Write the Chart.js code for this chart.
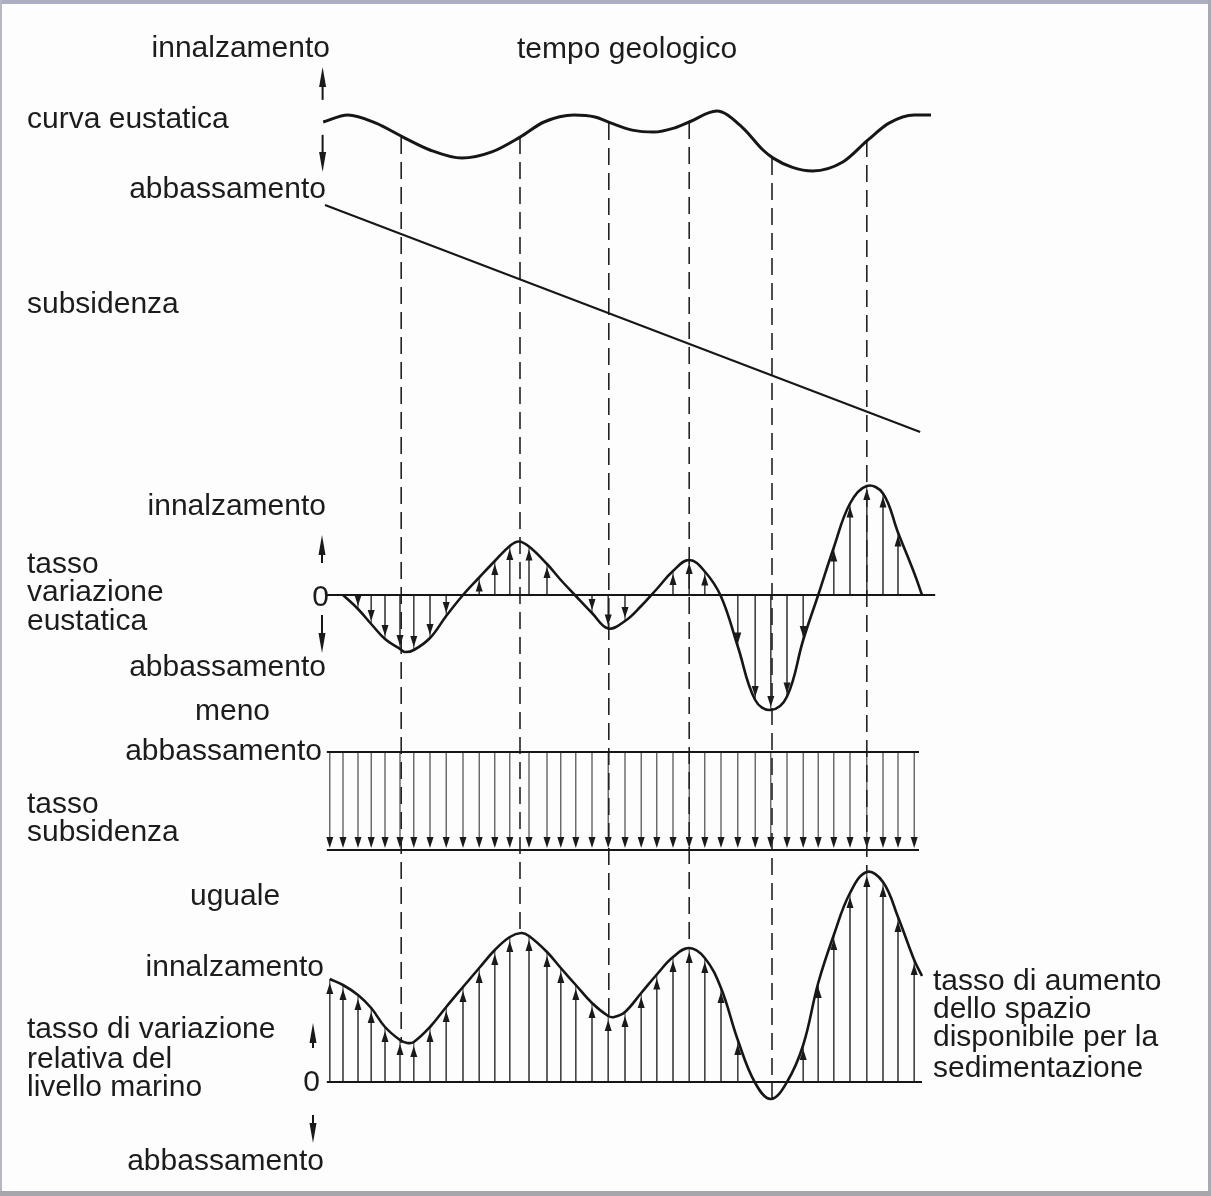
<!DOCTYPE html>
<html lang="it">
<head>
<meta charset="utf-8">
<title>Curva eustatica, subsidenza e variazione relativa del livello marino</title>
<script src="https://cdn.jsdelivr.net/npm/chart.js@4.4.1/dist/chart.umd.min.js"></script>
<style>
  html, body { margin: 0; padding: 0; background: #fdfdfd; overflow: hidden; }
  #wrap { position: relative; width: 1211px; height: 1196px; }
  #chart { position: absolute; left: 0; top: 0; }
  .lbl { position: absolute; font: 30px "Liberation Sans", Arial, sans-serif; line-height: 30px;
         color: #1c1c1c; white-space: nowrap; }
  .band { position: absolute; background: #adaec4; }
</style>
</head>
<body>
<div id="wrap">
  <canvas id="chart" width="1211" height="1196"></canvas>

  <div class="lbl" style="right:881px; top:32px">innalzamento</div>
  <div class="lbl" style="left:517px; top:33px">tempo geologico</div>
  <div class="lbl" style="left:27px; top:103px">curva eustatica</div>
  <div class="lbl" style="right:885px; top:173px">abbassamento</div>
  <div class="lbl" style="left:27px; top:288px">subsidenza</div>

  <div class="lbl" style="right:885px; top:490px">innalzamento</div>
  <div class="lbl" style="left:27px; top:548px">tasso</div>
  <div class="lbl" style="left:27px; top:576px">variazione</div>
  <div class="lbl" style="left:27px; top:605px">eustatica</div>
  <div class="lbl" style="right:882px; top:581px">0</div>
  <div class="lbl" style="right:885px; top:651px">abbassamento</div>
  <div class="lbl" style="left:195px; top:695px">meno</div>
  <div class="lbl" style="right:889px; top:735px">abbassamento</div>
  <div class="lbl" style="left:27px; top:788px">tasso</div>
  <div class="lbl" style="left:27px; top:816px">subsidenza</div>
  <div class="lbl" style="left:190px; top:880px">uguale</div>

  <div class="lbl" style="right:887px; top:951px">innalzamento</div>
  <div class="lbl" style="left:27px; top:1013px">tasso di variazione</div>
  <div class="lbl" style="left:27px; top:1043px">relativa del</div>
  <div class="lbl" style="left:27px; top:1071px">livello marino</div>
  <div class="lbl" style="right:891px; top:1066px">0</div>
  <div class="lbl" style="right:887px; top:1145px">abbassamento</div>

  <div class="lbl" style="left:933px; top:965px">tasso di aumento</div>
  <div class="lbl" style="left:933px; top:993px">dello spazio</div>
  <div class="lbl" style="left:933px; top:1021px">disponibile per la</div>
  <div class="lbl" style="left:933px; top:1052px">sedimentazione</div>

  <div class="band" style="left:0; top:0; width:1211px; height:4px"></div>
  <div class="band" style="left:0; top:0; width:2px; height:1196px; background:#b7b7c0"></div>
  <div class="band" style="left:1208px; top:0; width:3px; height:1196px; background:#a9a9b2"></div>
  <div class="band" style="left:0; top:1191px; width:1211px; height:5px; background:#a6a6ac"></div>
</div>

<script>
// tempo geologico (unità arbitrarie) delle linee verticali con freccia
const tGrid = [0.8, 3.0, 5.5, 7.7, 10.0, 12.5, 14.8, 17.5, 20.2, 23.0, 25.7, 28.3, 30.8, 34.0, 37.0,
  39.3, 41.8, 44.5, 47.2, 50.0, 52.7, 55.3, 58.0, 60.7, 63.3, 66.0, 68.8, 71.7, 74.3, 77.0,
  79.7, 82.2, 84.8, 87.5, 90.3, 93.0, 95.5, 98.2];

// curva eustatica (livello del mare)
const eusLevelT = [-0.3, 3.8, 8.5, 13.0, 17.5, 22.8, 27.8, 32.5, 36.5, 41.5, 45.0, 47.7, 51.2, 54.8,
  58.3, 60.7, 65.3, 69.5, 73.0, 74.7, 77.8, 81.3, 86.3, 90.5, 94.0, 98.2, 101.0];
const eusLevelV = [0.75, 1.0, 0.71, 0.21, -0.25, -0.54, -0.32, 0.21, 0.75, 1.0, 0.93, 0.71, 0.46, 0.39,
  0.54, 0.75, 1.14, 0.57, -0.25, -0.54, -0.86, -1.0, -0.68, 0.11, 0.71, 1.0, 1.0];

// subsidenza (linea retta)
const subsT = [0, 99.2];
const subsV = [0, -100];

// tasso di variazione eustatica sulle linee della griglia
const eusRate = [null, 0, -0.28, -0.58, -0.88, -1.08, -1.10, -0.86, -0.42, 0, 0.35, 0.68, 0.98, 0.97,
  0.62, 0.30, -0.02, -0.36, -0.67, -0.52, -0.22, 0.12, 0.48, 0.70, 0.47, -0.03, -1.03, -2.1, -2.3, -2.03,
  -0.9, 0, 0.95, 1.83, 2.18, 2.03, 1.25, 0.44];
// massimi e fine della curva tra due linee
const eusRateKeys = [[13.3, -1.14], [32.3, 1.07], [99.5, 0]];
// linee che hanno la freccia
const eusArrowIdx = [2, 3, 4, 5, 6, 7, 8, 10, 11, 12, 13, 14, 17, 18, 19, 22, 23, 24,
  26, 27, 28, 29, 30, 32, 33, 34, 35, 36];

// tasso di subsidenza (costante)
const subsRate = -1.96;

// tasso di variazione relativa del livello marino
const relRate = [2.06, 1.94, 1.74, 1.48, 1.10, 0.84, 0.80, 1.10, 1.50, 1.90, 2.28, 2.64, 2.90, 2.92,
  2.60, 2.28, 1.94, 1.58, 1.32, 1.40, 1.78, 2.15, 2.50, 2.68, 2.48, 1.88, 0.84, -0.02, -0.34, 0,
  0.74, 1.98, 2.94, 3.78, 4.2, 4.0, 3.3, 2.44];
const relKeys = [[13.7, 0.78], [32.7, 2.98], [48.2, 1.30], [99.5, 2.12]];

// linee tratteggiate: tempo, valore sulla curva eustatica, valore sulla curva relativa
const dashT = [12.7, 32.5, 47.3, 60.7, 74.5, 90.3];
const dashTop = [0.21, 0.21, 0.71, 0.75, -0.54, 0.11];
const dashBottom = [0.78, 2.98, 1.30, 2.68, -0.34, 4.2];

// frecce innalzamento / abbassamento accanto alle etichette
const sideArrows = [
  { axis: "yLevel", t: -0.4, from: 1.54, to: 2.71 },
  { axis: "yLevel", t: -0.4, from: 0.29, to: -1.04 },
  { axis: "yRate", t: -0.5, from: 0.64, to: 1.2 },
  { axis: "yRate", t: -0.5, from: -0.4, to: -1.16 },
  { axis: "yRel", t: -2, from: 0.68, to: 1.18 },
  { axis: "yRel", t: -2, from: -0.66, to: -1.22 }
];

const W = 1211, H = 1196;
const INK = "#161616";

// asse verticale nascosto: pixel dello zero e pixel per unità
function vAxis(zeroPx, unitPx) {
  return { type: "linear", display: false, min: (zeroPx - H) / unitPx, max: zeroPx / unitPx };
}

function pts(ts, vs) {
  return ts.map((t, i) => ({ x: t, y: vs[i] })).filter(p => p.y !== null);
}

function withKeys(vals, keys) {
  const p = pts(tGrid, vals).concat(keys.map(k => ({ x: k[0], y: k[1] })));
  return p.sort((a, b) => a.x - b.x);
}

function lineSet(data, axis, width, tension) {
  return {
    data: data, yAxisID: axis, borderColor: INK, borderWidth: width,
    pointRadius: 0, fill: false, tension: tension || 0
  };
}

function arrow(ctx, x, y0, y1, head, half) {
  const dir = Math.sign(y1 - y0) || 1;
  ctx.beginPath();
  ctx.moveTo(x, y0);
  ctx.lineTo(x, y1 - dir * head * 0.5);
  ctx.stroke();
  ctx.beginPath();
  ctx.moveTo(x, y1);
  ctx.lineTo(x - half, y1 - dir * head);
  ctx.lineTo(x + half, y1 - dir * head);
  ctx.closePath();
  ctx.fill();
}

const diagram = {
  id: "diagram",
  beforeDatasetsDraw(chart) {
    const ctx = chart.ctx;
    const sx = chart.scales.x, sRate = chart.scales.yRate, sBox = chart.scales.yBox;
    const sRel = chart.scales.yRel, sLev = chart.scales.yLevel;
    ctx.save();
    ctx.strokeStyle = "#3a3a3a";
    ctx.fillStyle = "#1a1a1a";
    ctx.lineWidth = 1.1;

    // frecce del tasso eustatico
    eusArrowIdx.forEach(i => {
      const x = sx.getPixelForValue(tGrid[i]);
      const y0 = sRate.getPixelForValue(0);
      const y1 = sRate.getPixelForValue(eusRate[i]);
      const dir = Math.sign(y1 - y0);
      ctx.beginPath(); ctx.moveTo(x, y0); ctx.lineTo(x, y1); ctx.stroke();
      arrow(ctx, x, y0, y1 - dir * 3, 11, 3.5);
    });

    // frecce del tasso di subsidenza
    tGrid.forEach(t => {
      const x = sx.getPixelForValue(t);
      arrow(ctx, x, sBox.getPixelForValue(0), sBox.getPixelForValue(subsRate) - 2, 11, 3.5);
    });

    // frecce del tasso relativo
    tGrid.forEach((t, i) => {
      if (relRate[i] <= 0.3) return;
      const x = sx.getPixelForValue(t);
      const y0 = sRel.getPixelForValue(0);
      const y1 = sRel.getPixelForValue(relRate[i]);
      ctx.beginPath(); ctx.moveTo(x, y0); ctx.lineTo(x, y1); ctx.stroke();
      arrow(ctx, x, y0, y1 + 4, 11, 3.5);
    });

    // frecce accanto alle etichette
    ctx.lineWidth = 2;
    ctx.strokeStyle = INK;
    sideArrows.forEach(a => {
      const s = chart.scales[a.axis];
      arrow(ctx, sx.getPixelForValue(a.t), s.getPixelForValue(a.from), s.getPixelForValue(a.to), 20, 3.5);
    });

    // linee tratteggiate verticali
    ctx.setLineDash([17, 8]);
    ctx.lineWidth = 1.6;
    ctx.strokeStyle = "#222";
    dashT.forEach((t, i) => {
      const x = sx.getPixelForValue(t);
      ctx.beginPath();
      ctx.moveTo(x, sLev.getPixelForValue(dashTop[i]));
      ctx.lineTo(x, sRel.getPixelForValue(dashBottom[i]));
      ctx.stroke();
    });
    ctx.restore();
  }
};

const topCurve = lineSet(pts(eusLevelT, eusLevelV), "yLevel", 3);
topCurve.cubicInterpolationMode = "monotone";

const datasets = [
  topCurve,
  lineSet(pts(subsT, subsV), "ySubs", 2),
  lineSet([{ x: 0.3, y: 0 }, { x: 101.7, y: 0 }], "yRate", 2),
  lineSet(withKeys(eusRate, eusRateKeys), "yRate", 2.6, 0.4),
  lineSet([{ x: 0.3, y: 0 }, { x: 99.0, y: 0 }], "yBox", 2),
  lineSet([{ x: 0.3, y: subsRate }, { x: 99.0, y: subsRate }], "yBox", 2),
  lineSet([{ x: 0.3, y: 0 }, { x: 99.5, y: 0 }], "yRel", 2),
  lineSet(withKeys(relRate, relKeys), "yRel", 2.6, 0.4)
];

new Chart(document.getElementById("chart"), {
  type: "line",
  data: { datasets: datasets },
  options: {
    responsive: false,
    animation: false,
    devicePixelRatio: 1,
    events: [],
    layout: { padding: 0 },
    plugins: { legend: { display: false }, tooltip: { enabled: false }, title: { display: false } },
    scales: {
      x: { type: "linear", display: false, min: -325 / 6, max: (W - 325) / 6 },
      yLevel: vAxis(143, 28),
      ySubs: vAxis(205, 2.27),
      yRate: vAxis(595, 50),
      yBox: vAxis(752, 50),
      yRel: vAxis(1082, 50)
    }
  },
  plugins: [diagram]
});
</script>
</body>
</html>
